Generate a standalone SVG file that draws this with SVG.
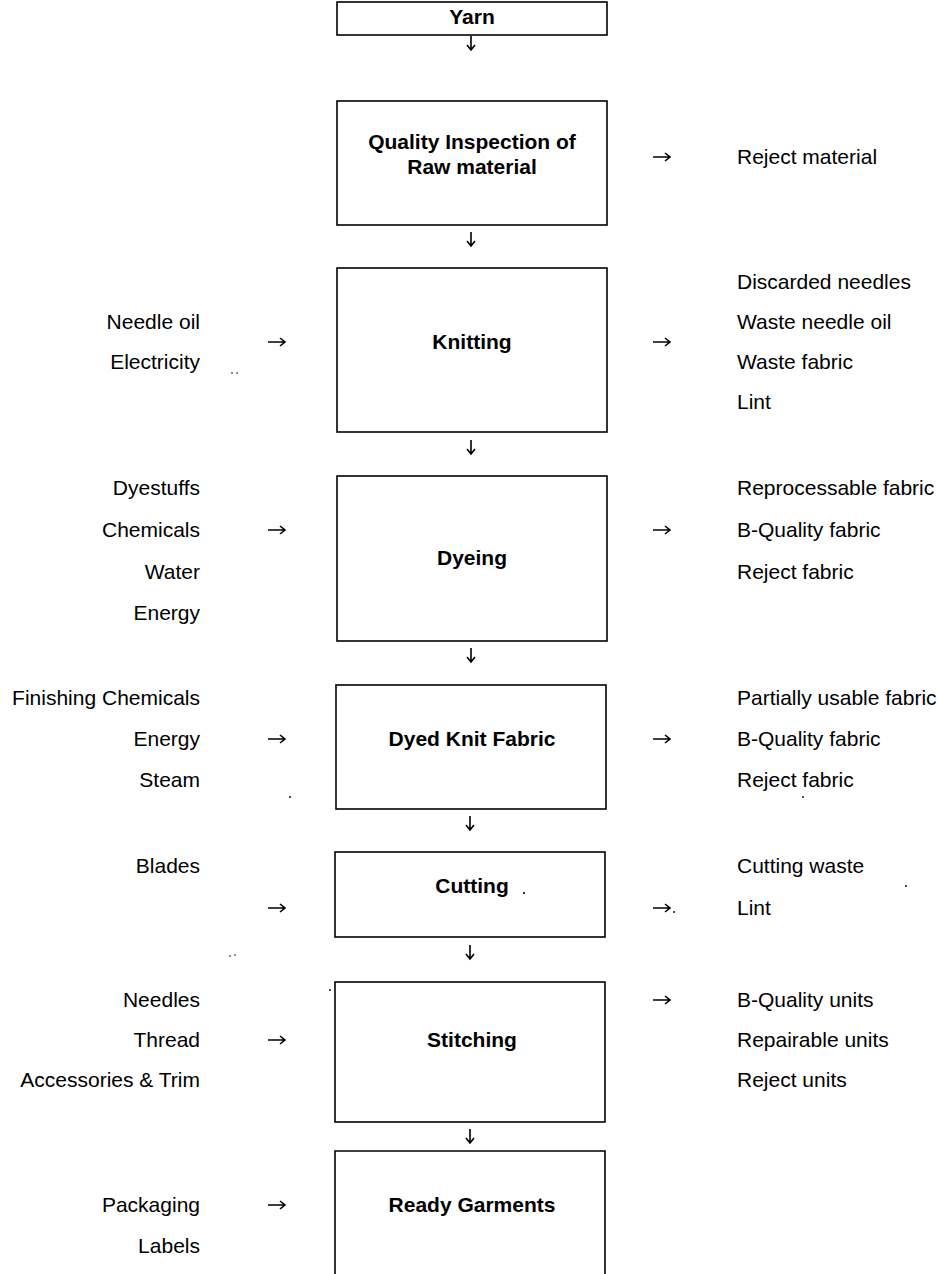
<svg xmlns="http://www.w3.org/2000/svg" width="943" height="1274" viewBox="0 0 943 1274">
<style>
.box{fill:#fff;stroke:#000;stroke-width:1.6}
.t{font-family:"Liberation Sans",Arial,sans-serif;font-size:21px;fill:#000}
.b{font-weight:bold;text-anchor:middle}
.l{text-anchor:end}
.r{text-anchor:start}
.a{fill:none;stroke:#000;stroke-width:1.6}
</style>
<defs>
<g id="ra"><path class="a" d="M0 0H17M12 -4L17 0L12 4"/></g>
<g id="da"><path class="a" d="M0 -7V7M-4 2L0 7L4 2"/></g>
</defs>
<rect width="943" height="1274" fill="#fff"/>
<g id="yarn"><rect class="box" x="337" y="2" width="270" height="33"/><text class="t b" x="472" y="24">Yarn</text></g>
<g id="qi"><rect class="box" x="337" y="101" width="270" height="124"/><text class="t b" x="472" y="149">Quality Inspection of</text><text class="t b" x="472" y="174">Raw material</text></g>
<g id="knitting"><rect class="box" x="337" y="268" width="270" height="164"/><text class="t b" x="472" y="349">Knitting</text></g>
<g id="dyeing"><rect class="box" x="337" y="476" width="270" height="165"/><text class="t b" x="472" y="565">Dyeing</text></g>
<g id="dkf"><rect class="box" x="336" y="685" width="270" height="124"/><text class="t b" x="472" y="746">Dyed Knit Fabric</text></g>
<g id="cutting"><rect class="box" x="335" y="852" width="270" height="85"/><text class="t b" x="472" y="893">Cutting</text></g>
<g id="stitching"><rect class="box" x="335" y="982" width="270" height="140"/><text class="t b" x="472" y="1047">Stitching</text></g>
<g id="ready"><path class="box" d="M335 1276V1151H605V1276"/><text class="t b" x="472" y="1212">Ready Garments</text></g>
<g id="inputs">
<text class="t l" x="200" y="329">Needle oil</text>
<text class="t l" x="200" y="369">Electricity</text>
<text class="t l" x="200" y="495">Dyestuffs</text>
<text class="t l" x="200" y="537">Chemicals</text>
<text class="t l" x="200" y="579">Water</text>
<text class="t l" x="200" y="620">Energy</text>
<text class="t l" x="200" y="705">Finishing Chemicals</text>
<text class="t l" x="200" y="746">Energy</text>
<text class="t l" x="200" y="787">Steam</text>
<text class="t l" x="200" y="873">Blades</text>
<text class="t l" x="200" y="1007">Needles</text>
<text class="t l" x="200" y="1047">Thread</text>
<text class="t l" x="200" y="1087">Accessories &amp; Trim</text>
<text class="t l" x="200" y="1212">Packaging</text>
<text class="t l" x="200" y="1253">Labels</text>
</g>
<g id="outputs">
<text class="t r" x="737" y="164">Reject material</text>
<text class="t r" x="737" y="289">Discarded needles</text>
<text class="t r" x="737" y="329">Waste needle oil</text>
<text class="t r" x="737" y="369">Waste fabric</text>
<text class="t r" x="737" y="409">Lint</text>
<text class="t r" x="737" y="495">Reprocessable fabric</text>
<text class="t r" x="737" y="537">B-Quality fabric</text>
<text class="t r" x="737" y="579">Reject fabric</text>
<text class="t r" x="737" y="705">Partially usable fabric</text>
<text class="t r" x="737" y="746">B-Quality fabric</text>
<text class="t r" x="737" y="787">Reject fabric</text>
<text class="t r" x="737" y="873">Cutting waste</text>
<text class="t r" x="737" y="915">Lint</text>
<text class="t r" x="737" y="1007">B-Quality units</text>
<text class="t r" x="737" y="1047">Repairable units</text>
<text class="t r" x="737" y="1087">Reject units</text>
</g>
<g id="connectors">
<use href="#da" x="471" y="43"/>
<use href="#da" x="471" y="239"/>
<use href="#da" x="471" y="447"/>
<use href="#da" x="471" y="655"/>
<use href="#da" x="470" y="823"/>
<use href="#da" x="470" y="952"/>
<use href="#da" x="470" y="1136"/>
<use href="#ra" x="653" y="157"/>
<use href="#ra" x="268" y="342"/>
<use href="#ra" x="653" y="342"/>
<use href="#ra" x="268" y="530"/>
<use href="#ra" x="653" y="530"/>
<use href="#ra" x="268" y="739"/>
<use href="#ra" x="653" y="739"/>
<use href="#ra" x="268" y="908"/>
<use href="#ra" x="653" y="908"/>
<use href="#ra" x="268" y="1040"/>
<use href="#ra" x="653" y="1000"/>
<use href="#ra" x="268" y="1205"/>
</g>
<g id="specks" fill="#000">
<circle cx="232" cy="373" r="0.8"/><circle cx="237" cy="373" r="0.8"/>
<circle cx="290" cy="797" r="0.9"/>
<circle cx="803" cy="797" r="0.9"/>
<circle cx="524" cy="893" r="1.1"/>
<circle cx="674" cy="912" r="0.9"/>
<circle cx="906" cy="886" r="0.9"/>
<circle cx="230" cy="956" r="0.8"/><circle cx="235" cy="955" r="0.8"/>
<circle cx="330" cy="990" r="0.9"/>
</g>
</svg>
